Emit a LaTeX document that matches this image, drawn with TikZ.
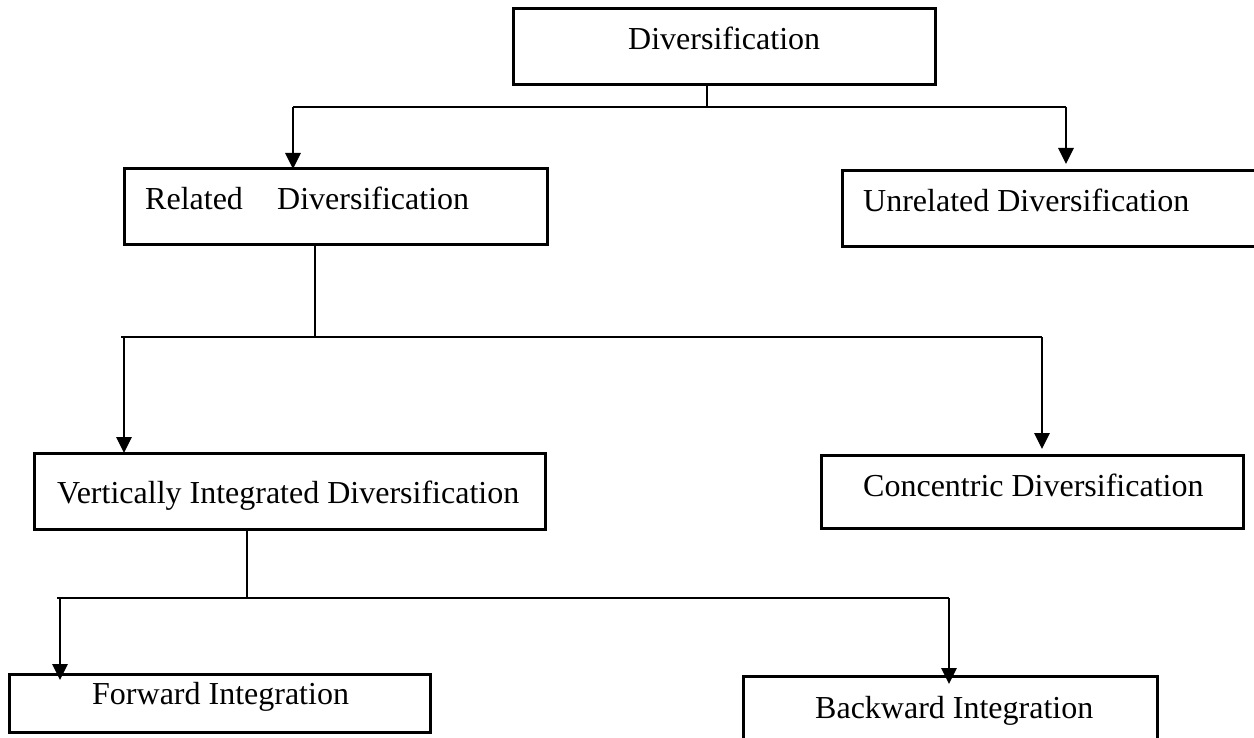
\documentclass[tikz,border=0pt]{standalone}
\usepackage{fontspec}
\setmainfont{Liberation Serif}
\usetikzlibrary{arrows.meta}
\begin{document}
\begin{tikzpicture}[x=1pt,y=-1pt,
  box/.style={draw,line width=3pt,rectangle,inner sep=0pt,outer sep=0pt,anchor=north west},
  lbl/.style={inner sep=0pt,anchor=base west,font=\fontsize{32}{38}\selectfont},
  thin/.style={line width=1.3pt},
  arr/.style={line width=2.7pt,-{Triangle[length=16pt,width=15pt]}}]
\useasboundingbox (0,0) rectangle (1254,738);

% boxes
\node[box,minimum width=422pt,minimum height=76pt] (top) at (513,9) {};
\node[box,minimum width=423pt,minimum height=76pt] (rel) at (124,169) {};
\node[box,minimum width=420pt,minimum height=76pt] (unrel) at (842,171) {};
\node[box,minimum width=511pt,minimum height=76pt] (vert) at (34,453) {};
\node[box,minimum width=422pt,minimum height=73pt] (conc) at (821,455) {};
\node[box,minimum width=421pt,minimum height=58pt] (fwd) at (9,674) {};
\node[box,minimum width=414pt,minimum height=70pt] (bwd) at (743,676) {};

% labels
\node[lbl] (ttop) at (628,50) {Diversification};
\node[lbl] (trel) at (145,210) {Related};
\node[lbl] (trel2) at (277,210) {Diversification};
\node[lbl] (tunrel) at (863,212) {Unrelated Diversification};
\node[lbl] (tvert) at (57,503) {Vertically Integrated Diversification};
\node[lbl] (tconc) at (863,496) {Concentric Diversification};
\node[lbl] (tfwd) at (92,704) {Forward Integration};
\node[lbl] (tbwd) at (815,718) {Backward Integration};

% junction points
\coordinate (s1) at (707,107);
\coordinate (l1) at (293,107);
\coordinate (r1) at (1066,107);
\coordinate (s2) at (315,337);
\coordinate (l2) at (124,337);
\coordinate (r2) at (1042,337);
\coordinate (s3) at (247,598);
\coordinate (l3) at (60,598);
\coordinate (r3) at (949,598);

% first level
\draw[thin] (top.south -| s1) -- (s1);
\draw[thin] (l1) -- (r1);
\draw[arr] (l1) -- (rel.north -| l1);
\draw[arr] (r1) -- ([yshift=7pt]unrel.north -| r1);

% second level
\draw[thin] (rel.south -| s2) -- (s2);
\draw[thin] ([xshift=-3pt]l2) -- (r2);
\draw[arr] (l2) -- (vert.north -| l2);
\draw[arr] (r2) -- ([yshift=6pt]conc.north -| r2);

% third level
\draw[thin] (vert.south -| s3) -- (s3);
\draw[thin] ([xshift=-3pt]l3) -- (r3);
\draw[arr] (l3) -- ([yshift=-6pt]fwd.north -| l3);
\draw[arr] (r3) -- ([yshift=-8pt]bwd.north -| r3);
\end{tikzpicture}
\end{document}
